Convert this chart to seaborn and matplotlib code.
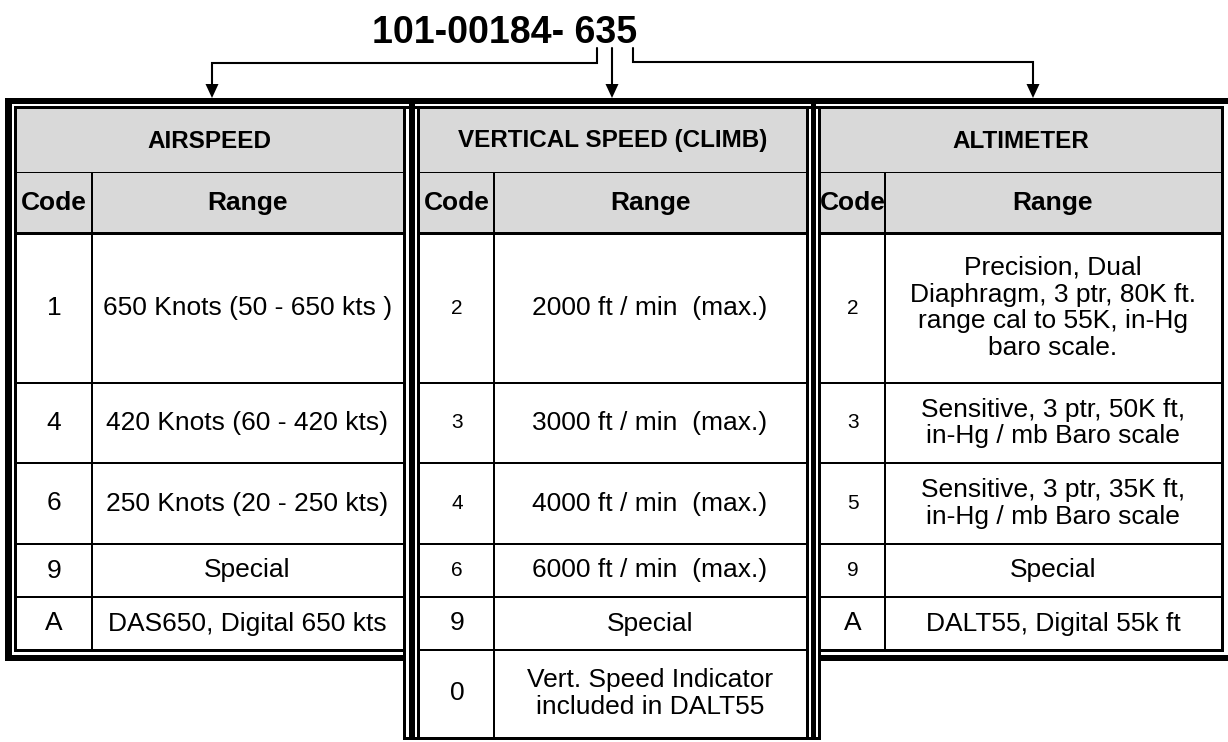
import matplotlib
matplotlib.use("Agg")
import matplotlib.pyplot as plt
from matplotlib.patches import Rectangle
import seaborn as sns

# Part number and the three code tables
part_number = "101-00184- 635"

airspeed_codes = ["1", "4", "6", "9", "A"]
airspeed_ranges = ["650 Knots (50 - 650 kts )", "420 Knots (60 - 420 kts)",
                   "250 Knots (20 - 250 kts)", "Special", "DAS650, Digital 650 kts"]

vs_codes = ["2", "3", "4", "6", "9", "0"]
vs_ranges = ["2000 ft / min  (max.)", "3000 ft / min  (max.)", "4000 ft / min  (max.)",
             "6000 ft / min  (max.)", "Special", "Vert. Speed Indicator\nincluded in DALT55"]

alt_codes = ["2", "3", "5", "9", "A"]
alt_ranges = ["Precision, Dual\nDiaphragm, 3 ptr, 80K ft.\nrange cal to 55K, in-Hg\nbaro scale.",
              "Sensitive, 3 ptr, 50K ft,\nin-Hg / mb Baro scale",
              "Sensitive, 3 ptr, 35K ft,\nin-Hg / mb Baro scale",
              "Special", "DALT55, Digital 55k ft"]

titles = ["AIRSPEED", "VERTICAL SPEED (CLIMB)", "ALTIMETER"]

sns.set_style("white")
plt.rcParams['font.family'] = ['Liberation Sans', 'DejaVu Sans']
plt.rcParams['text.color'] = 'black'

fig, ax = plt.subplots(figsize=(12.28, 7.42), dpi=100)
ax.set_position([0, 0, 1, 1])
ax.set_xlim(0, 1228)
ax.set_ylim(742, 0)
ax.axis('off')


def box(x0, x1, y0, y1, color='black'):
    ax.add_patch(Rectangle((x0, y0), x1 - x0, y1 - y0, facecolor=color, lw=0))


# table geometry (pixels)
tables = [  # left, code divider, right, bottom
    (16, 92, 403, 651),
    (420, 494, 806, 738),
    (821, 885, 1221, 651),
]
row_edges = [233, 383, 463, 544, 597, 650, 737]
small_codes = [False, True, True]

# gray header fills
for left, mid, right, bottom in tables:
    box(left, right, 108, 233, '#d9d9d9')

# thick outer lines
box(5, 1228, 98, 104)
box(5, 12, 98, 661)
box(5, 406, 655, 661)
box(819, 1228, 655, 661)
box(409, 415, 104, 740)
box(811, 816, 104, 740)

# thin frame lines
box(14, 1224, 106, 108.5)
box(14, 16.5, 106, 652)
box(403, 406, 106, 740)
box(417, 420, 106, 740)
box(806, 809, 106, 740)
box(818, 821, 106, 740)
box(1221, 1224, 106, 652)
box(14, 406, 649, 652)
box(818, 1224, 649, 652)
box(403, 821, 737, 740)

# inner grid
for ti, (left, mid, right, bottom) in enumerate(tables):
    box(left, right, 171.5, 173)
    box(left, right, 232, 234.5)
    nrows = 6 if ti == 1 else 5
    for r in range(1, nrows):
        y = row_edges[r]
        box(left, right, y - 1, y + 1)
    box(mid - 1, mid + 1, 172, bottom)

# header text
for ti, (left, mid, right, bottom) in enumerate(tables):
    ax.text((left + right) / 2, 141, titles[ti], ha='center', va='center',
            fontsize=17.5, fontweight='bold', color='black')
    ax.text((left + mid) / 2, 203, "Code", ha='center', va='center',
            fontsize=19, fontweight='bold', color='black')
    ax.text((mid + right) / 2, 203, "Range", ha='center', va='center',
            fontsize=19, fontweight='bold', color='black')

# body text
all_codes = [airspeed_codes, vs_codes, alt_codes]
all_ranges = [airspeed_ranges, vs_ranges, alt_ranges]
for ti, (left, mid, right, bottom) in enumerate(tables):
    for r, (c, rng) in enumerate(zip(all_codes[ti], all_ranges[ti])):
        yc = (row_edges[r] + row_edges[r + 1]) / 2
        fs_code = 15 if (small_codes[ti] and r < 4) else 19
        ax.text((left + mid) / 2, yc, c, ha='center', va='center',
                fontsize=fs_code, color='black')
        ax.text((mid + right) / 2, yc, rng, ha='center', va='center',
                fontsize=19, linespacing=1.15, color='black')

# part number and arrows
ax.text(505, 33, part_number, ha='center', va='center', fontsize=27,
        fontweight='bold', color='black')

lw = 1.5
ax.plot([597, 597, 212, 212], [48, 63, 63, 86], color='black', lw=lw, solid_joinstyle='miter')
ax.plot([612, 612], [48, 86], color='black', lw=lw)
ax.plot([633, 633, 1033, 1033], [48, 62, 62, 86], color='black', lw=lw, solid_joinstyle='miter')
for xa in [212, 612, 1033]:
    ax.fill([xa - 6.5, xa + 6.5, xa], [84, 84, 98], color='black', lw=0)

fig.savefig("out.png", dpi=100)
